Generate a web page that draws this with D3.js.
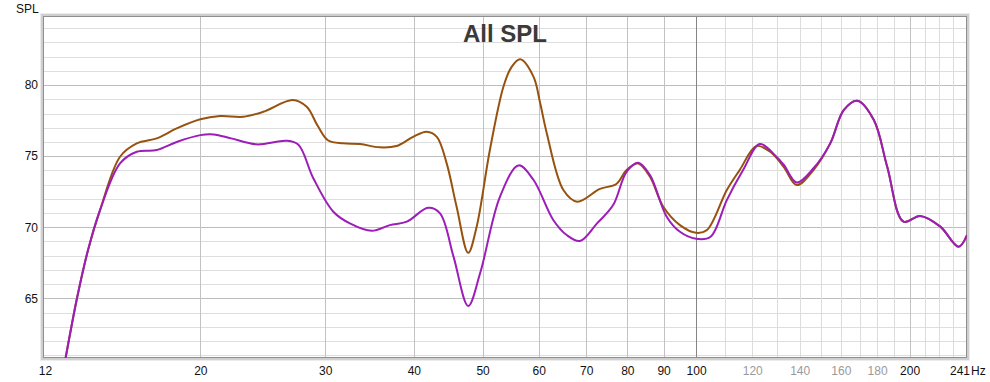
<!DOCTYPE html>
<html><head><meta charset="utf-8">
<script src="https://cdn.jsdelivr.net/npm/d3@7"></script>
<style>html,body{margin:0;padding:0;background:#fff;}svg{display:block;}</style>
</head><body>
<svg id="c" width="990" height="382"></svg>
<script>
// ---- data ----
const title = "All SPL";
const yLabel = "SPL";
const xUnit = "Hz";
const xMajorTicks = [12, 20, 30, 40, 50, 60, 70, 80, 90, 100, 200, 241];
const xMinorLabelTicks = [120, 140, 160, 180];
const xMinorGrid = [110, 120, 130, 140, 150, 160, 170, 180, 190, 210, 220, 230, 240];
const yTicks = [65, 70, 75, 80];
const yGrid = [61, 62, 63, 64, 65, 66, 67, 68, 69, 70, 71, 72, 73, 74, 75, 76, 77, 78, 79, 80, 81, 82, 83, 84];

const freqA = [12.85, 13.4, 13.89, 14.44, 15.41, 16.27, 17.36, 18.52, 20, 21.32, 22.99, 24.53, 27.0, 28.25, 29.3, 30.3, 31.8, 33.6, 35.8, 37.8, 39.9, 41.7, 43.1, 44.5, 45.96, 47.72, 49.05, 51.2, 53.5, 54.9, 56.5, 59.0, 60.3, 61.6, 65.0, 68.0, 73.2, 77.2, 79.8, 82.9, 86.1, 89.9, 94.9, 100, 103.6, 110.5, 115.2, 121.7, 127.2, 132.9, 138.6, 146.4, 154.6, 161.5, 168.8, 178.1, 186, 196.1, 207, 221, 234.5, 241];
const splA  = [60.2, 65.0, 68.4, 71.2, 74.96, 75.9, 76.25, 76.95, 77.59, 77.82, 77.77, 78.12, 78.95, 78.47, 77.1, 76.1, 75.9, 75.85, 75.62, 75.71, 76.36, 76.72, 76.36, 74.49, 71.44, 68.2, 70.04, 75.43, 79.88, 81.25, 81.81, 80.58, 78.7, 76.6, 72.62, 71.8, 72.7, 73.04, 74.02, 74.49, 73.55, 71.44, 70.15, 69.61, 69.8, 72.62, 74.02, 75.71, 75.31, 74.25, 72.97, 74.02, 75.9, 78.24, 78.9, 77.54, 74.25, 70.39, 70.79, 70.04, 68.63, 69.45];

const freqB = [12.85, 13.4, 13.89, 14.44, 15.41, 16.27, 17.36, 18.52, 20, 20.88, 22.1, 24.0, 26.47, 27.5, 28.86, 30.8, 32.5, 34.9, 37.0, 39.1, 41.9, 43.55, 45.5, 47.72, 49.6, 52.9, 56.2, 59.0, 62.9, 65.7, 68.6, 72.5, 76.4, 79.8, 82.9, 86.1, 90.9, 94.9, 100, 104.8, 110.5, 116.5, 123.0, 129.8, 132.9, 138.6, 146.4, 154.6, 161.5, 168.8, 178.1, 186, 196.1, 207, 221, 234.5, 241];
const splB  = [60.2, 65.0, 68.4, 71.2, 74.49, 75.31, 75.43, 76.0, 76.48, 76.53, 76.25, 75.83, 76.08, 75.8, 73.45, 71.09, 70.27, 69.75, 70.15, 70.39, 71.37, 70.98, 67.93, 64.46, 66.76, 72.14, 74.35, 73.32, 70.51, 69.45, 69.03, 70.27, 71.56, 73.9, 74.54, 73.67, 70.74, 69.68, 69.19, 69.33, 71.91, 74.02, 75.85, 74.96, 74.4, 73.15, 74.15, 75.9, 78.24, 78.9, 77.54, 74.25, 70.39, 70.79, 70.04, 68.63, 69.45];

const seriesColors = ["#97520f", "#9c1db8"];

// ---- layout ----
const L = 43, R = 967, T = 16, B = 358;
const svg = d3.select("#c");
const x = d3.scaleLog().domain([12, 241]).range([L, R]);
const y = d3.scaleLinear().domain([60.8, 84.86]).range([B, T]);

// frame shadow
svg.append("rect").attr("x", L-3).attr("y", T-3).attr("width", R-L+6).attr("height", B-T+6).attr("fill", "#ececec");
svg.append("rect").attr("x", L-2).attr("y", T-2).attr("width", R-L+4).attr("height", B-T+4).attr("fill", "#cfcfcf");
svg.append("rect").attr("x", L).attr("y", T).attr("width", R-L).attr("height", B-T).attr("fill", "#fff");

const grid = svg.append("g");
grid.selectAll("line.h").data(yGrid).join("line")
  .attr("x1", L).attr("x2", R)
  .attr("y1", d => Math.round(y(d)) + 0.5).attr("y2", d => Math.round(y(d)) + 0.5)
  .attr("stroke", d => d % 5 === 0 ? "#bdbdbd" : "#dedede").attr("stroke-width", 1);
grid.selectAll("line.vm").data(xMinorGrid).join("line")
  .attr("y1", T).attr("y2", B)
  .attr("x1", d => Math.round(x(d)) + 0.5).attr("x2", d => Math.round(x(d)) + 0.5)
  .attr("stroke", "#dcdcdc");
grid.selectAll("line.vM").data(xMajorTicks.filter(d => d !== 12 && d !== 241)).join("line")
  .attr("y1", T).attr("y2", B)
  .attr("x1", d => Math.round(x(d)) + 0.5).attr("x2", d => Math.round(x(d)) + 0.5)
  .attr("stroke", d => d === 100 ? "#858585" : "#c2c2c2");

svg.append("rect").attr("x", L+0.5).attr("y", T+0.5).attr("width", R-L-1).attr("height", B-T-1)
  .attr("fill", "none").attr("stroke", "#8f8f8f");

// curves
svg.append("clipPath").attr("id", "clip").append("rect")
  .attr("x", L+1).attr("y", T+1).attr("width", R-L-1).attr("height", B-T-1);
const line = d3.line().x(d => x(d[0])).y(d => y(d[1])).curve(d3.curveCatmullRom.alpha(0.5));
const series = [d3.zip(freqA, splA), d3.zip(freqB, splB)];
svg.append("g").attr("clip-path", "url(#clip)").selectAll("path").data(series).join("path")
  .attr("d", line).attr("fill", "none")
  .attr("stroke", (d, i) => seriesColors[i]).attr("stroke-width", 2)
  .attr("stroke-linejoin", "round");

// title
svg.append("text").attr("x", 505).attr("y", 42).attr("text-anchor", "middle")
  .attr("font-family", "Liberation Sans, Arial, sans-serif").attr("font-weight", "bold")
  .attr("font-size", 24).attr("fill", "#3a3a3a").text(title);

// axes
const font = "Liberation Sans, Arial, sans-serif";
const yAxis = svg.append("g").attr("transform", `translate(${L},0)`)
  .call(d3.axisLeft(y).tickValues(yTicks).tickSize(0).tickPadding(5).tickFormat(d3.format("d")));
yAxis.select(".domain").remove();
yAxis.selectAll("text").attr("font-family", font).attr("font-size", 12).attr("fill", "#111");

svg.append("text").attr("x", 16).attr("y", 13).attr("font-family", font).attr("font-size", 12)
  .attr("fill", "#111").text(yLabel);

const xAxis = svg.append("g").attr("transform", `translate(0,${B})`)
  .call(d3.axisBottom(x).tickValues(xMajorTicks.filter(d => d !== 241).concat(xMinorLabelTicks))
    .tickSize(0).tickPadding(8).tickFormat(d3.format("d")));
xAxis.select(".domain").remove();
xAxis.selectAll("text").attr("font-family", font).attr("font-size", 12)
  .attr("fill", d => xMinorLabelTicks.includes(d) ? "#9a9a9a" : "#111")
  .attr("dx", d => d === 12 ? 2 : 0);

const lastT = svg.append("text").attr("y", B + 17).attr("font-family", font).attr("font-size", 12).attr("fill", "#111");
lastT.append("tspan").attr("x", x(241) + 3).attr("text-anchor", "end").text(String(xMajorTicks[xMajorTicks.length-1]));
svg.append("text").attr("x", x(241) + 4).attr("y", B + 17).attr("font-family", font).attr("font-size", 12)
  .attr("fill", "#111").text(xUnit);
</script>
</body></html>
